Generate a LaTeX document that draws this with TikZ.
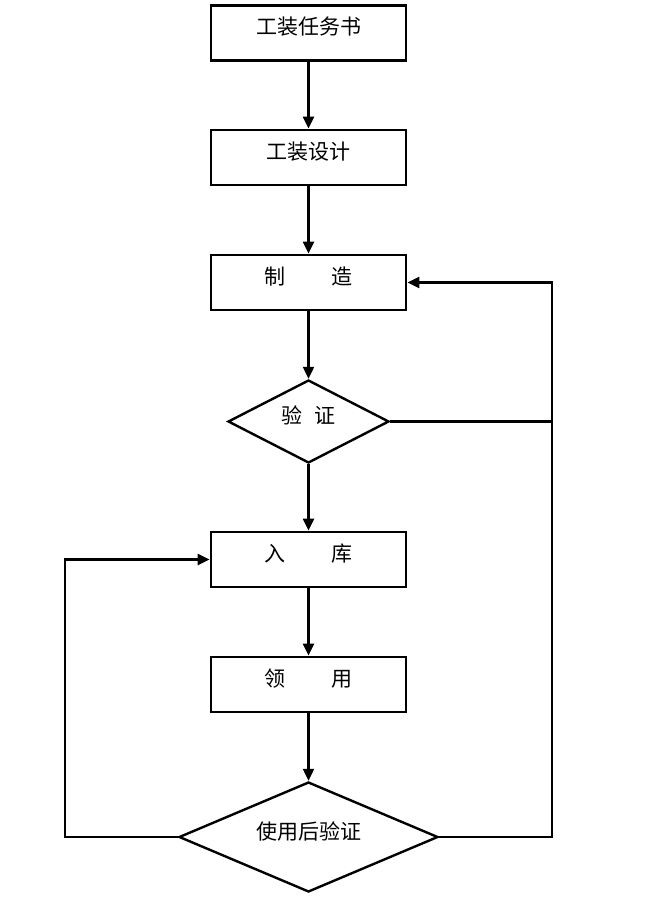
\documentclass[tikz,border=0pt]{standalone}
\usepackage{fontspec}
\setmainfont{Noto Sans CJK SC}
\usetikzlibrary{shapes.geometric,arrows.meta}

\begin{document}
\begin{tikzpicture}[x=1pt,y=-1pt,
		box/.style={draw, line width=2.8pt, minimum width=195pt, minimum height=55pt, inner sep=0pt, text height=16pt, text depth=12pt, font=\fontsize{21}{24}\selectfont},
		decide/.style={draw, line width=2.4pt, shape=diamond, aspect=2.2, inner sep=0pt, text height=16pt, text depth=12pt, font=\fontsize{21}{24}\selectfont},
		arr/.style={line width=2.2pt, -{Triangle[length=12pt,width=11pt]}},
		ln/.style={line width=2.2pt}]
		\useasboundingbox (0,0) rectangle (649,909);
		
		% 方框 (自上而下)
		\node[box] (rws) at (308.5,33) {工装任务书};
		\node[box] (sj) at (308.5,157.5) {工装设计};
		\node[box] (zz) at (308.5,282.5) {制\hspace{2.2em}造};
		\node[decide, minimum width=161pt, minimum height=83pt] (yz) at (308.5,421.5) {验\hspace{0.57em}证};
		\node[box] (rk) at (308.5,559.5) {入\hspace{2.2em}库};
		\node[box] (ly) at (308.5,684.5) {领\hspace{2.2em}用};
		\node[decide, minimum width=259pt, minimum height=110pt] (syz) at (308.5,837) {使用后验证};
		
		% 主流程
		\draw[arr] (rws) -- (sj);
		\draw[arr] (sj) -- (zz);
		\draw[arr] (zz) -- (yz);
		\draw[arr] (yz) -- (rk);
		\draw[arr] (rk) -- (ly);
		\draw[arr] (ly) -- (syz);
		
		% 右侧回路：验证不合格返回制造
		\coordinate (rt) at (552,421.5);
		\draw[ln] (yz.east) -- (rt);
		\draw[arr] (syz.east) -| (rt) |- (zz.east);
		
		% 左侧回路：使用后验证合格返回入库
		\coordinate (lt) at (65,700);
		\draw[arr] (syz.west) -| (lt) |- (rk.west);
	
	\end{tikzpicture}
\end{document}
